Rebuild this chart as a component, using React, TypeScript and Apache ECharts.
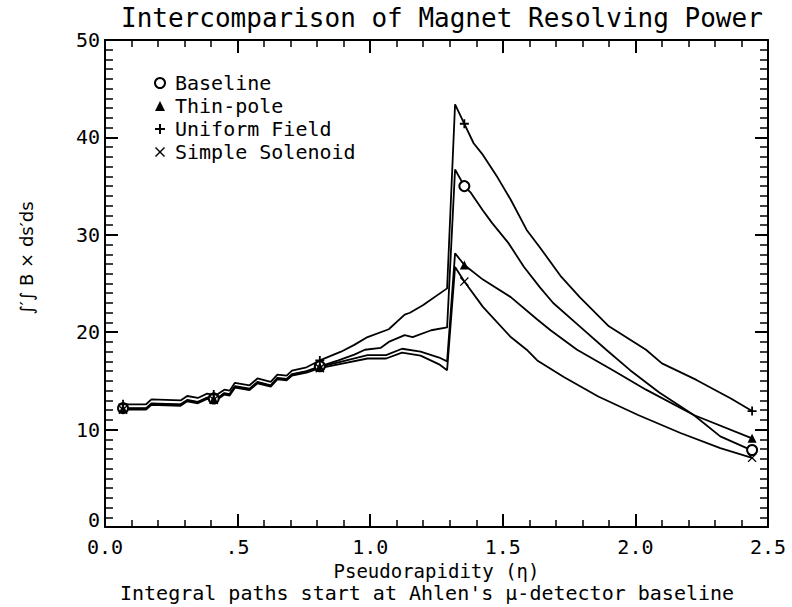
import React, { useEffect, useRef } from "react";
import * as echarts from "echarts";

const TITLE = "Intercomparison of Magnet Resolving Power";
const X_NAME = "Pseudorapidity (η)";
const Y_NAME = "∫′∫ B × ds′ds";
const SUBTITLE = "Integral paths start at Ahlen's μ-detector baseline";

const seriesNames = ["Baseline", "Thin-pole", "Uniform Field", "Simple Solenoid"];

const baselineCurve: [number, number][] = [
  [0.068, 12.2], [0.155, 12.2], [0.175, 12.7], [0.285, 12.6], [0.31, 13.05], [0.35, 12.85],
  [0.385, 13.3], [0.42, 13.15], [0.45, 13.75], [0.47, 13.65], [0.49, 14.45], [0.545, 14.2],
  [0.575, 14.9], [0.625, 14.55], [0.65, 15.3], [0.685, 15.2], [0.705, 15.7], [0.76, 16.0],
  [0.81, 16.5], [0.88, 17.1], [0.94, 17.7], [0.98, 18.2], [1.04, 18.4], [1.07, 19.0],
  [1.13, 19.7], [1.16, 19.5], [1.23, 20.2], [1.29, 20.5], [1.32, 36.7], [1.355, 35.0],
  [1.38, 34.3], [1.425, 32.5], [1.46, 31.2], [1.52, 29.2], [1.58, 26.7], [1.64, 24.6],
  [1.69, 23.0], [1.79, 20.6], [1.89, 18.2], [1.98, 16.1], [2.09, 13.8], [2.22, 11.5],
  [2.32, 9.3], [2.42, 8.1], [2.44, 7.9],
];

const thinPoleCurve: [number, number][] = [
  [0.068, 12.15], [0.155, 12.15], [0.175, 12.65], [0.285, 12.55], [0.31, 13.0], [0.35, 12.8],
  [0.385, 13.25], [0.42, 13.1], [0.45, 13.7], [0.47, 13.6], [0.49, 14.4], [0.545, 14.15],
  [0.575, 14.85], [0.625, 14.5], [0.65, 15.25], [0.685, 15.15], [0.705, 15.65], [0.76, 15.95],
  [0.81, 16.45], [0.88, 16.9], [0.99, 17.65], [1.06, 17.65], [1.12, 18.3], [1.19, 18.0],
  [1.26, 17.4], [1.29, 17.0], [1.32, 28.1], [1.355, 26.9], [1.425, 25.4], [1.53, 23.6],
  [1.63, 21.3], [1.68, 20.2], [1.78, 18.2], [1.915, 16.1], [2.04, 14.1], [2.22, 11.5],
  [2.44, 9.1],
];

const uniformCurve: [number, number][] = [
  [0.068, 12.6], [0.155, 12.6], [0.175, 13.1], [0.285, 13.0], [0.31, 13.45], [0.35, 13.25],
  [0.385, 13.7], [0.42, 13.55], [0.45, 14.1], [0.47, 14.0], [0.49, 14.8], [0.545, 14.55],
  [0.575, 15.25], [0.625, 14.9], [0.65, 15.65], [0.685, 15.55], [0.705, 16.05], [0.76, 16.4],
  [0.81, 17.1], [0.89, 18.0], [0.94, 18.7], [0.99, 19.5], [1.07, 20.3], [1.13, 21.8],
  [1.15, 22.0], [1.2, 22.8], [1.29, 24.5], [1.32, 43.4], [1.355, 41.4], [1.39, 39.4],
  [1.425, 38.2], [1.48, 35.9], [1.53, 33.6], [1.59, 30.5], [1.64, 28.7], [1.72, 25.7],
  [1.79, 23.6], [1.9, 20.6], [2.04, 18.2], [2.1, 16.8], [2.23, 15.1], [2.36, 13.2],
  [2.44, 11.9],
];

const solenoidCurve: [number, number][] = [
  [0.068, 12.05], [0.155, 12.05], [0.175, 12.55], [0.285, 12.45], [0.31, 12.9], [0.35, 12.7],
  [0.385, 13.15], [0.42, 13.0], [0.45, 13.6], [0.47, 13.5], [0.49, 14.3], [0.545, 14.05],
  [0.575, 14.75], [0.625, 14.4], [0.65, 15.15], [0.685, 15.05], [0.705, 15.55], [0.76, 15.85],
  [0.81, 16.3], [0.88, 16.7], [0.99, 17.3], [1.06, 17.3], [1.12, 17.9], [1.19, 17.6],
  [1.26, 16.7], [1.29, 16.1], [1.32, 26.7], [1.355, 25.2], [1.425, 22.6], [1.53, 19.5],
  [1.59, 18.2], [1.63, 17.1], [1.73, 15.4], [1.86, 13.4], [2.01, 11.5], [2.17, 9.65],
  [2.32, 8.1], [2.44, 7.1],
];

const baselineMarks: [number, number][] = [[0.068, 12.2], [0.41, 13.2], [0.81, 16.5], [1.355, 35.0], [2.44, 7.9]];
const thinPoleMarks: [number, number][] = [[0.068, 12.15], [0.41, 13.15], [0.81, 16.45], [1.355, 26.9], [2.44, 9.1]];
const uniformMarks: [number, number][] = [[0.068, 12.6], [0.41, 13.6], [0.81, 17.1], [1.355, 41.4], [2.44, 11.9]];
const solenoidMarks: [number, number][] = [[0.068, 12.05], [0.41, 13.05], [0.81, 16.3], [1.355, 25.2], [2.44, 7.1]];

const MONO = "DejaVu Sans Mono";
const PLUS = "path://M4,0H6V4H10V6H6V10H4V6H0V4H4Z";
const CROSS = "path://M0,1L1,0L5,4L9,0L10,1L6,5L10,9L9,10L5,6L1,10L0,9L4,5Z";

export default function App() {
  const ref = useRef<HTMLDivElement>(null);
  useEffect(() => {
    document.body.style.margin = "0";
    if (!ref.current) return;
    const chart = echarts.init(ref.current, null, { renderer: "svg" });

    const axisLine = { show: true, onZero: false, lineStyle: { color: "#000", width: 2 } };
    const xTick = { show: true, inside: true, length: 13, lineStyle: { color: "#000", width: 2 } };
    const xMinor = { show: true, splitNumber: 5, length: 7, lineStyle: { color: "#000", width: 1.5 } };
    const yTick = { show: true, inside: true, length: 13, lineStyle: { color: "#000", width: 2 } };
    const yMinor = { show: true, splitNumber: 10, length: 8, lineStyle: { color: "#000", width: 1.5 } };

    const curves = [baselineCurve, thinPoleCurve, uniformCurve, solenoidCurve];
    const marks = [baselineMarks, thinPoleMarks, uniformMarks, solenoidMarks];
    const symbols = ["emptyCircle", "triangle", PLUS, CROSS];
    const sizes = [10, 9, 9, 9];

    const lineSeries = curves.map((c, i) => ({
      name: seriesNames[i] + " curve",
      type: "line",
      data: c,
      showSymbol: false,
      symbol: "none",
      lineStyle: { color: "#000", width: 1.8 },
      z: 2,
    }));
    const markSeries = marks.map((m, i) => ({
      name: seriesNames[i],
      type: "scatter",
      data: m,
      symbol: symbols[i],
      symbolSize: sizes[i],
      itemStyle: { color: "#000", borderColor: "#000", borderWidth: i === 0 ? 1.5 : 0, opacity: 1 },
      z: 3,
    }));

    chart.setOption({
      animation: false,
      backgroundColor: "#fff",
      title: {
        text: TITLE,
        left: 116,
        top: 0,
        textStyle: { fontFamily: MONO, fontSize: 26, fontWeight: "normal", color: "#000" },
      },
      legend: {
        orient: "vertical",
        left: 149,
        top: 68,
        itemGap: 3,
        itemWidth: 10,
        itemHeight: 10,
        selectedMode: false,
        data: seriesNames,
        textStyle: { fontFamily: MONO, fontSize: 20, color: "#000", padding: [0, 0, 0, 5] },
      },
      grid: { left: 105, right: 24, top: 40, bottom: 80, containLabel: false },
      xAxis: [
        {
          type: "value",
          min: 0,
          max: 2.5,
          interval: 0.5,
          position: "bottom",
          axisLine,
          axisTick: xTick,
          minorTick: xMinor,
          splitLine: { show: false },
          axisLabel: {
            margin: 10,
            fontFamily: MONO,
            fontSize: 20,
            color: "#000",
            formatter: (v: number) => (v === 0.5 ? ".5" : v.toFixed(1)),
          },
          name: X_NAME,
          nameLocation: "middle",
          nameGap: 24,
          nameTextStyle: { fontFamily: MONO, fontSize: 19, color: "#000" },
        },
        {
          type: "value",
          min: 0,
          max: 2.5,
          interval: 0.5,
          position: "top",
          axisLine,
          axisTick: xTick,
          minorTick: xMinor,
          splitLine: { show: false },
          axisLabel: { show: false },
        },
      ],
      yAxis: [
        {
          type: "value",
          min: 0,
          max: 50,
          interval: 10,
          position: "left",
          axisLine,
          axisTick: yTick,
          minorTick: yMinor,
          splitLine: { show: false },
          axisLabel: {
            margin: 5,
            fontFamily: MONO,
            fontSize: 20,
            color: "#000",
            formatter: (v: number) => (v === 0 ? "{z|0}" : String(v)),
            rich: { z: { fontFamily: MONO, fontSize: 20, color: "#000", padding: [0, 0, 14, 0] } },
          },
        },
        {
          type: "value",
          min: 0,
          max: 50,
          interval: 10,
          position: "right",
          axisLine,
          axisTick: yTick,
          minorTick: yMinor,
          splitLine: { show: false },
          axisLabel: { show: false },
        },
      ],
      graphic: [
        {
          type: "text",
          x: 26,
          y: 258,
          rotation: Math.PI / 2,
          style: {
            text: Y_NAME,
            fontFamily: "DejaVu Sans",
            fontSize: 18,
            fill: "#000",
            textAlign: "center",
            textVerticalAlign: "middle",
          },
        },
        {
          type: "text",
          left: 120,
          top: 583,
          style: { text: SUBTITLE, fontFamily: MONO, fontSize: 20, fill: "#000" },
        },
      ],
      series: [...lineSeries, ...markSeries],
    });
    return () => chart.dispose();
  }, []);
  return <div ref={ref} style={{ width: 792, height: 607 }} />;
}
